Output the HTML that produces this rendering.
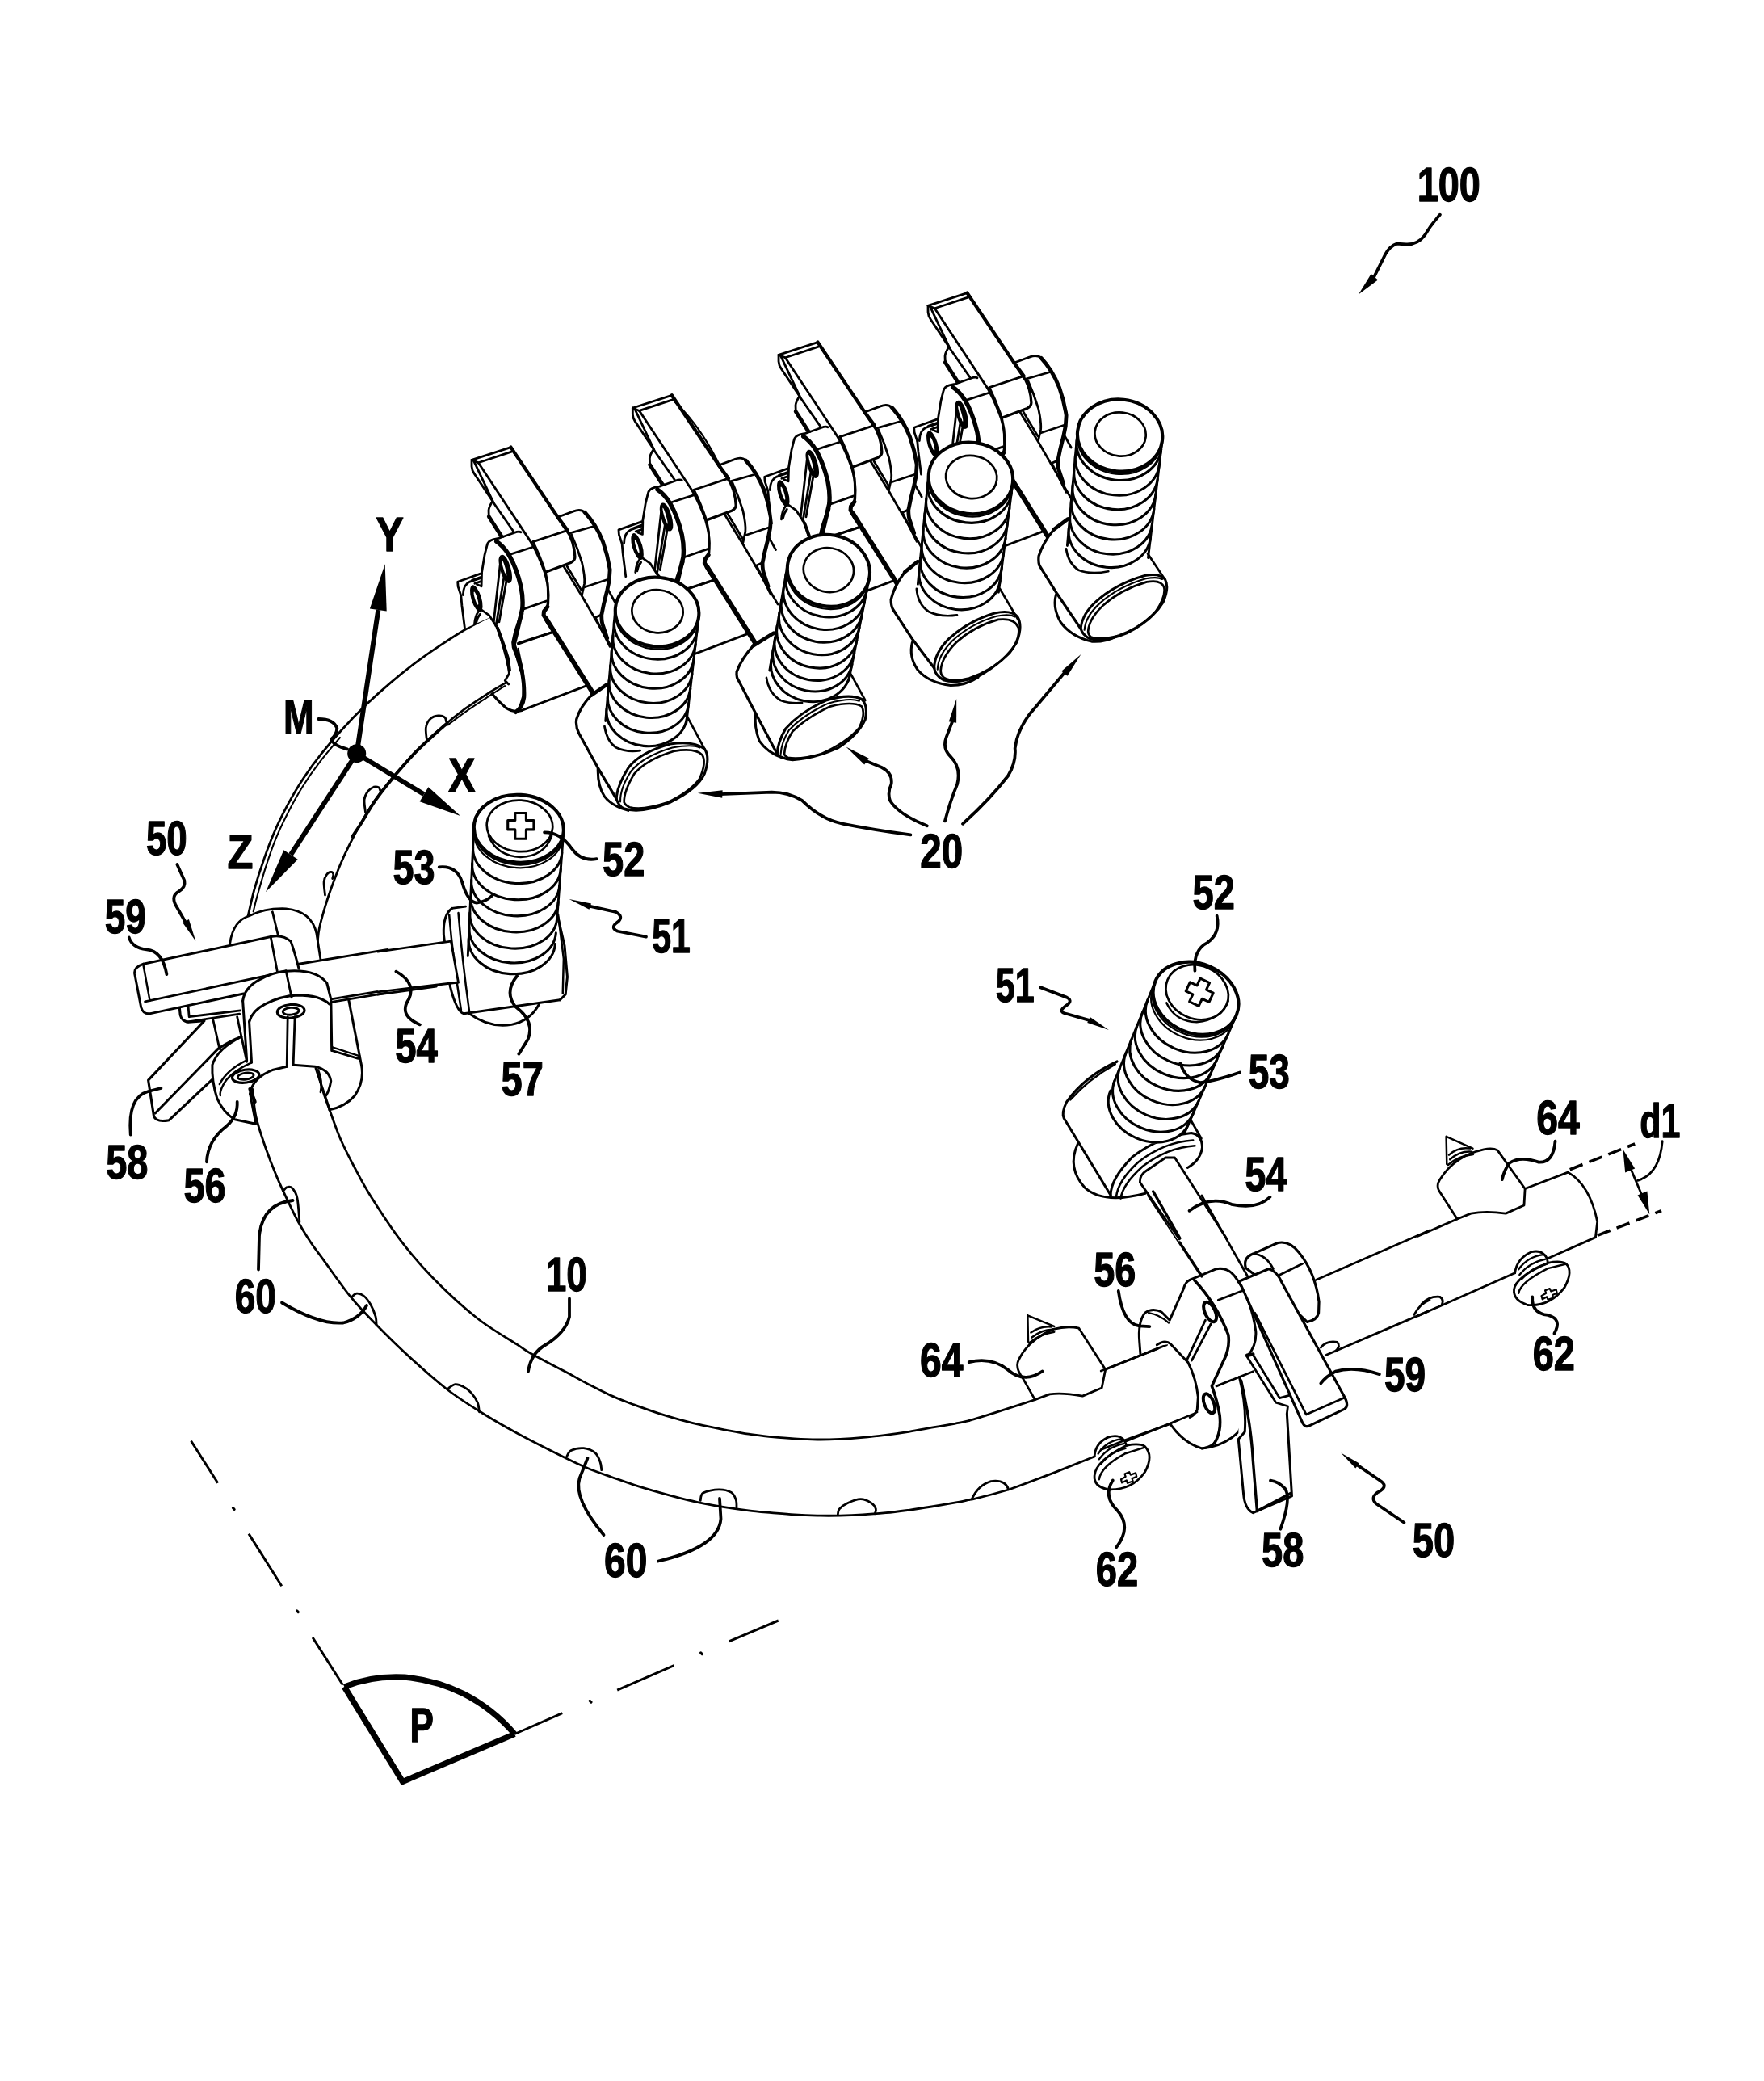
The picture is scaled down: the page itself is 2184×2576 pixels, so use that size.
<!DOCTYPE html>
<html><head><meta charset="utf-8"><title>Fig</title>
<style>
html,body{margin:0;padding:0;background:#fff;}
svg{display:block}
text{font-family:"Liberation Sans",sans-serif;font-weight:bold;fill:#000;stroke:#000;stroke-width:1.3px;stroke-linejoin:round}
.k path,.k ellipse,.k line,.k polyline,.k circle{fill:none;stroke:#000;stroke-linecap:round;stroke-linejoin:round}
</style></head><body>
<svg width="2184" height="2576" viewBox="0 0 2184 2576" class="k">
<rect x="0" y="0" width="2184" height="2576" fill="#fff" stroke="none"/>
<!-- 10_defs.frag -->
<defs><g id="clamp">
<g transform="translate(570,540) scale(0.085034)">
<path d="M165,345 L735,160" stroke-width="32.93" />
<path d="M262,385 L745,225" stroke-width="32.93" />
<path d="M165,345 L262,385 L1030,1545" stroke-width="32.93" />
<path d="M165,345 L165,440 Q170,500 200,540 L470,945 Q415,1030 412,1080 L415,1170" stroke-width="32.93" />
<path d="M415,1170 L600,1460" stroke-width="56.45" />
<path d="M200,368 L486,974 L775,1388" stroke-width="32.93" />
<path d="M735,160 L1420,1180 L1560,1370" stroke-width="50.57" />
</g>
<g transform="translate(555,650) scale(0.086505)">
<path d="M790,165 L640,207 Q570,225 555,290 L520,430 L478,690 L135,812 L140,880 L183,1010 L237,1480 L580,1330 L690,1450 L950,1700 L1060,1200 L1040,880 L870,430 Z" stroke-width="0.00" style="fill:#fff;stroke:none"/>
<path d="M790,165 L720,190 L640,207 Q570,225 555,290 L520,430 L478,690 L135,812 L140,880 L183,1010" stroke-width="32.37" />
<path d="M183,1010 L195,1150 L237,1480" stroke-width="32.37" />
<path d="M212,1000 Q215,850 310,810 L462,758" stroke-width="32.37" />
<path d="M340,790 L462,745" stroke-width="32.37" />
<path d="M380,835 L470,805" stroke-width="32.37" />
<path d="M410,850 L475,875 L480,690" stroke-width="32.37" />
<ellipse cx="402" cy="1050" rx="72" ry="198" transform="rotate(-17 402 1050)" style="fill:#000;stroke:none"/>
<ellipse cx="398" cy="1048" rx="17" ry="98" transform="rotate(-17 398 1048)" style="fill:#fff;stroke:none"/>
<path d="M478,1215 L585,1290 L650,1390 L690,1450 Q770,1650 830,1900 L870,2081" stroke-width="32.37" />
<path d="M712,1470 Q800,1700 860,1900 L885,2081" stroke-width="32.37" />
<path d="M430,1240 Q385,1300 375,1420" stroke-width="32.37" />
<path d="M455,1275 Q410,1330 400,1400" stroke-width="32.37" />
<ellipse cx="818" cy="628" rx="48" ry="182" transform="rotate(-16 818 628)" stroke-width="55.49" style="fill:#000"/>
<ellipse cx="800" cy="610" rx="14" ry="120" transform="rotate(-16 800 610)" style="fill:#fff;stroke:none"/>
<path d="M742,570 L652,1375" stroke-width="32.37" />
<path d="M805,700 L690,1400 L680,1440" stroke-width="32.37" />
<path d="M833,795 L728,1385" stroke-width="32.37" />
<path d="M690,235 Q790,300 870,430 Q980,620 1040,880 Q1075,1050 1060,1200 L990,1500 L940,1700 Q935,1740 950,1770 L1000,1900 L1050,2081" stroke-width="62.42" />
<path d="M790,165 L945,110 Q1010,85 1040,102" stroke-width="32.37" />
<path d="M880,420 L1200,318" stroke-width="32.37" />
<path d="M1080,1200 L1410,1085" stroke-width="32.37" />
<path d="M1000,1700 L1510,1525" stroke-width="32.37" />
<path d="M1186,247 Q1300,450 1380,680 Q1430,850 1435,1000 L1430,1130 L1420,1170" stroke-width="32.37" />
<path d="M1420,1170 L1370,1235 L1365,1290 L1400,1340 L1450,1430" stroke-width="58.96" />
<path d="M1400,1340 L2196,2601" stroke-width="68.20" />
</g>
<g transform="translate(660,610) scale(0.086505)">
<path d="M0,700 L470,545" stroke-width="32.37" />
<path d="M0,700 Q100,900 178,1135" stroke-width="32.37" />
<path d="M178,1135 L540,1000 Q600,970 600,920 L590,820 Q570,700 520,600 L480,540 L350,350" stroke-width="38.15" />
<path d="M350,350 L580,265 Q680,225 740,280" stroke-width="32.37" />
<path d="M740,280 Q900,450 1000,700 Q1070,900 1100,1100 Q1100,1250 1060,1400 L1010,1600 L980,1750 Q980,1850 1000,1900 L1060,2081" stroke-width="55.49" />
<path d="M520,580 L870,480" stroke-width="32.37" />
<path d="M550,600 Q640,800 700,1000 Q745,1200 735,1300 L700,1460" stroke-width="32.37" />
<path d="M740,1350 L1070,1240" stroke-width="32.37" />
<path d="M880,1790 L970,1750" stroke-width="32.37" />
<path d="M440,1055 L700,1480 L880,1790 L1200,2340" stroke-width="32.37" />
<path d="M485,1050 L695,1400" stroke-width="32.37" />
<path d="M900,1800 L1000,2000 L1100,2200" stroke-width="32.37" />
<path d="M178,1135 L210,1300 L215,1550 L200,1640" stroke-width="32.37" />
<path d="M1070,1380 L1170,1560" stroke-width="32.37" />
</g>
<g transform="translate(500,760) scale(0.147384)">
<path d="M780,100 L840,280 Q880,420 885,500 L850,560 L880,590" stroke-width="19.00" />
<path d="M740,670 Q800,740 860,790 Q920,830 990,810" stroke-width="23.07" />
<path d="M990,0 L940,150 L920,240 L935,290 L990,470 Q1015,600 1010,700 Q1000,780 940,825" stroke-width="32.57" />
<path d="M960,290 L1000,480 Q1005,600 1000,690 L970,790" stroke-width="14.93" />
<path d="M960,245 L1260,150" stroke-width="19.00" />
<path d="M990,810 L1530,605" stroke-width="19.00" />
</g>
</g></defs>

<!-- 30_rail.frag -->
<g><path d="M312.8,1348.3 C313.5,1354.0 314.4,1370.6 317.0,1382.4 C319.6,1394.2 324.1,1406.9 328.3,1419.2 C332.6,1431.5 337.8,1444.8 342.5,1456.1 C347.2,1467.4 352.2,1477.8 356.7,1487.2 C361.2,1496.7 364.7,1504.3 369.4,1512.8 C374.1,1521.3 379.9,1530.6 385.0,1538.3 C390.1,1546.0 391.8,1547.8 400.0,1558.9 C408.2,1570.1 423.1,1591.8 434.0,1605.2 C444.9,1618.6 452.8,1626.5 465.3,1639.2 C477.8,1651.9 494.1,1667.9 508.8,1681.4 C523.5,1694.9 539.2,1708.8 553.7,1720.0 C568.2,1731.2 581.6,1739.5 596.0,1748.5 C610.4,1757.5 622.5,1764.5 640.0,1774.0 C657.5,1783.5 686.5,1798.0 701.2,1805.3 C715.9,1812.6 719.1,1813.9 728.3,1817.7 C737.6,1821.5 747.2,1824.8 756.7,1828.2 C766.1,1831.6 775.6,1835.0 785.0,1838.1 C794.5,1841.2 803.9,1843.9 813.4,1846.6 C822.8,1849.3 832.3,1851.9 841.7,1854.3 C851.2,1856.6 860.6,1858.8 870.1,1860.8 C879.5,1862.7 889.0,1864.4 898.4,1865.9 C907.9,1867.4 917.3,1868.7 926.8,1869.8 C936.2,1871.0 945.7,1871.8 955.1,1872.7 C964.6,1873.5 974.0,1874.4 983.4,1874.9 C992.9,1875.5 1002.3,1875.9 1011.8,1876.1 C1021.2,1876.3 1030.7,1876.3 1040.1,1876.1 C1049.6,1875.9 1059.0,1875.5 1068.5,1874.9 C1077.9,1874.4 1087.4,1873.6 1096.8,1872.7 C1106.3,1871.7 1115.7,1870.5 1125.2,1869.3 C1134.6,1868.0 1144.1,1866.5 1153.5,1865.0 C1163.0,1863.5 1174.1,1861.6 1181.9,1860.2 C1189.6,1858.8 1197.0,1857.1 1200.0,1856.5" stroke-width="2.80"/><path d="M392.1,1320.0 C393.3,1324.7 396.4,1338.8 399.2,1348.3 C402.0,1357.8 405.3,1366.3 409.1,1376.7 C412.9,1387.1 416.9,1399.3 421.9,1410.7 C426.9,1422.1 432.8,1433.5 438.9,1445.0 C445.0,1456.5 449.1,1465.1 458.5,1480.0 C467.9,1494.9 482.3,1517.4 495.2,1534.4 C508.1,1551.4 520.2,1565.8 536.1,1582.0 C552.0,1598.2 573.2,1617.8 590.5,1631.5 C607.8,1645.2 628.6,1656.7 640.0,1664.2 C651.4,1671.7 648.7,1670.7 658.7,1676.3 C668.7,1681.9 688.4,1691.8 700.0,1698.0 C711.6,1704.2 718.9,1708.5 728.3,1713.4 C737.7,1718.3 747.2,1723.3 756.7,1727.6 C766.1,1731.8 775.6,1735.3 785.0,1738.9 C794.5,1742.4 803.9,1745.7 813.4,1748.8 C822.8,1751.9 832.3,1754.7 841.7,1757.3 C851.2,1759.9 860.6,1762.3 870.1,1764.4 C879.5,1766.5 889.0,1768.3 898.4,1770.1 C907.9,1771.9 917.3,1773.8 926.8,1775.2 C936.2,1776.6 945.7,1777.6 955.1,1778.6 C964.6,1779.5 974.0,1780.3 983.4,1780.8 C992.9,1781.4 1002.3,1781.9 1011.8,1782.0 C1021.2,1782.1 1030.7,1781.8 1040.1,1781.4 C1049.6,1781.0 1059.0,1780.3 1068.5,1779.4 C1077.9,1778.6 1087.4,1777.5 1096.8,1776.3 C1106.3,1775.1 1115.7,1773.8 1125.2,1772.3 C1134.6,1770.8 1144.1,1768.9 1153.5,1767.2 C1163.0,1765.6 1174.1,1763.8 1181.9,1762.4 C1189.6,1761.0 1197.0,1759.3 1200.0,1758.7" stroke-width="2.80"/><path d="M350.5,1474.5 C351.3,1473.7 353.4,1470.3 355.3,1469.7 C357.2,1469.0 359.7,1468.6 361.8,1470.8 C363.9,1473.0 366.5,1476.0 368.0,1483.0 C369.5,1490.0 370.4,1507.8 370.9,1512.7" stroke-width="2.80"/><path d="M435.5,1605.4 C436.5,1604.7 439.3,1601.4 441.7,1601.2 C444.2,1601.0 447.4,1601.8 450.2,1604.0 C453.1,1606.2 456.3,1610.3 458.7,1614.5 C461.2,1618.8 463.7,1625.4 465.0,1629.5 C466.2,1633.7 465.9,1637.8 466.1,1639.5" stroke-width="2.80"/><path d="M555.1,1718.6 C556.5,1717.8 560.5,1714.1 563.6,1713.7 C566.7,1713.4 570.2,1714.8 573.5,1716.6 C576.8,1718.3 580.5,1720.9 583.4,1724.2 C586.4,1727.5 589.7,1732.5 591.4,1736.4 C593.0,1740.3 593.0,1745.9 593.4,1747.8" stroke-width="2.80"/><path d="M701.4,1803.5 C702.4,1802.2 703.5,1797.4 707.1,1795.6 C710.6,1793.8 717.7,1792.3 722.7,1792.7 C727.6,1793.2 733.4,1795.6 736.8,1798.4 C740.2,1801.2 741.8,1806.2 743.1,1809.8 C744.4,1813.3 744.5,1818.0 744.8,1819.7" stroke-width="2.80"/><path d="M867.2,1857.4 C867.8,1855.8 866.9,1850.3 870.6,1848.0 C874.4,1845.7 884.1,1843.9 889.9,1843.8 C895.7,1843.7 902.0,1845.3 905.5,1847.4 C909.0,1849.6 910.1,1853.4 911.2,1856.5 C912.3,1859.7 911.9,1864.8 912.0,1866.4" stroke-width="2.80"/><path d="M1037.3,1874.9 C1037.6,1873.8 1037.3,1870.2 1039.3,1867.9 C1041.3,1865.5 1044.8,1862.8 1049.2,1860.8 C1053.6,1858.7 1060.6,1855.7 1065.6,1855.7 C1070.7,1855.7 1076.1,1858.7 1079.3,1860.8 C1082.4,1862.8 1083.7,1865.7 1084.4,1867.9 C1085.0,1870.0 1083.4,1872.8 1083.2,1873.8" stroke-width="2.80"/></g>
<g transform="translate(1100,1600) scale(0.226757)">
<path d="M441,699 Q500,682 600,650 L800,585" stroke-width="12.35" />
<path d="M441,1131 L460,1128 Q560,1105 660,1075 L900,985 L1125,895" stroke-width="12.35" />
<path d="M1185,420 L1520,285" stroke-width="12.35" />
<path d="M1300,810 L1700,650" stroke-width="12.35" />
<path d="M455,1128 Q490,1050 560,1030 Q640,1020 655,1075" stroke-width="12.35" />
<path d="M800,585 L735,470 Q690,410 710,370 Q760,260 900,200 Q980,180 1040,195 L1185,420 L1165,520 L1060,565 Q950,545 880,555 Z" stroke-width="12.35" style="fill:#fff"/>
<path d="M760,125 L905,185 M760,125 L763,268 M778,218 Q830,180 892,187 M783,245 Q840,200 900,202 M768,275 Q830,225 905,215" stroke-width="11.03" />
<path d="M1125,1000 Q1120,1060 1200,1075 Q1330,1080 1400,980 Q1450,890 1400,840 Q1370,820 1300,835 Q1130,920 1125,1000 Z" stroke-width="12.35" style="fill:#fff"/>
<path d="M1150,1020 Q1160,950 1290,880 L1400,845" stroke-width="11.03" />
<path d="M1125,895 Q1130,820 1200,790 Q1260,770 1290,810 L1300,835" stroke-width="12.35" />
<path d="M1145,880 Q1190,810 1270,800 M1150,910 Q1200,840 1285,825 M1160,935 Q1210,870 1295,850" stroke-width="10.58" />
<path d="M1270,1020 L1295,1005 L1290,990 L1315,980 L1322,995 L1350,985 L1355,1005 L1330,1015 L1335,1030 L1305,1040 L1300,1025 L1275,1038 Z" stroke-width="9.70" />
</g>
<g transform="translate(1760,1340) scale(0.226757)">
<path d="M-20,839 L195,745" stroke-width="12.35" />
<path d="M565,580 L800,490" stroke-width="12.35" />
<path d="M-20,1274 L510,1040" stroke-width="12.35" />
<path d="M690,960 L950,845" stroke-width="12.35" />
<path d="M800,490 Q920,560 960,760 L950,845" stroke-width="12.35" />
<path d="M810,475 L1165,335" stroke-width="15.88" stroke-dasharray="75 38" style="stroke-linecap:butt"/>
<path d="M960,835 L1310,700" stroke-width="15.88" stroke-dasharray="75 38" style="stroke-linecap:butt"/>
<path d="M1125,430 L1220,655" stroke-width="12.35" />
<path d="M1100,365 L1165,470 L1112,492 Z" stroke-width="4.41" style="fill:#000;stroke:none"/>
<path d="M1245,720 L1180,615 L1232,593 Z" stroke-width="4.41" style="fill:#000;stroke:none"/>
<path d="M1315,320 Q1300,500 1180,535" stroke-width="12.35" />
<path d="M195,745 L95,590 Q80,560 100,530 Q180,400 340,365 Q390,355 415,370 L565,580 L560,670 L460,715 Q350,700 270,715 Z" stroke-width="12.35" style="fill:#fff"/>
<path d="M135,295 L280,360 M135,295 L138,445 M150,395 Q200,350 265,360 M155,420 Q210,372 275,378 M145,450 Q200,400 282,392" stroke-width="11.03" />
<path d="M505,1130 Q500,1190 580,1215 Q700,1225 780,1120 Q830,1030 790,990 Q760,970 690,985 Q515,1060 505,1130 Z" stroke-width="12.35" style="fill:#fff"/>
<path d="M530,1150 Q540,1090 690,1015 L790,990" stroke-width="11.03" />
<path d="M510,1040 Q520,960 600,925 Q660,910 685,960 L690,985" stroke-width="12.35" />
<path d="M530,1020 Q580,950 665,940 M535,1050 Q590,980 675,965 M545,1075 Q600,1010 685,990" stroke-width="10.58" />
<path d="M655,1165 L680,1150 L675,1135 L700,1125 L707,1140 L735,1130 L740,1150 L715,1160 L720,1175 L690,1185 L685,1170 L660,1183 Z" stroke-width="9.70" />
<path d="M0,1210 Q40,1165 100,1170 Q125,1185 110,1215" stroke-width="12.35" />
</g>
<g transform="translate(1370,1480) scale(0.226757)">
<path d="M-30,957 L280,835" stroke-width="12.35" />
<path d="M-30,1387 L100,1335 L350,1245 L500,1185" stroke-width="12.35" />
<path d="M1145,460 L1764,190" stroke-width="12.35" />
<path d="M1200,870 L1764,628" stroke-width="12.35" />
<path d="M1170,830 Q1200,790 1260,800 Q1280,820 1250,850" stroke-width="12.35" />
<path d="M1680,650 Q1710,590 1764,570" stroke-width="12.35" />
<path d="M760,395 Q745,340 800,318 L935,258 Q1000,245 1050,310 Q1140,420 1160,580 L1158,640 Q1150,680 1095,690 L900,500 Z" stroke-width="14.11" style="fill:#fff"/>
<path d="M800,318 Q870,320 910,400" stroke-width="12.35" />
<path d="M880,465 L1070,372" stroke-width="12.35" />
<path d="M455,460 L600,400 Q660,390 700,440 Q790,560 815,740 Q820,820 770,875 L600,1040 L755,1130 Q760,1220 720,1290 Q640,1370 520,1380 Q420,1350 350,1250 L500,1185 L495,1100 L445,910 L350,810 L280,820 L185,865 L180,800 Q170,690 210,640 L300,635 L345,680 L420,510 Q430,470 455,460 Z" stroke-width="0.00" style="fill:#fff;stroke:none"/>
<path d="M455,460 L600,400 Q660,390 700,440 Q790,560 815,740 Q820,820 770,875" stroke-width="13.23" />
<path d="M480,462 Q600,590 665,760 Q675,830 640,900 L575,1040 Q605,1120 618,1200 Q628,1290 590,1350" stroke-width="15.88" />
<path d="M455,460 Q430,470 420,510 L345,680 L300,635 Q250,610 210,640 Q170,690 180,800 L185,865" stroke-width="13.23" />
<path d="M230,640 Q290,650 340,695" stroke-width="10.14" />
<path d="M275,815 Q320,785 350,810 L430,895 L445,910 Q490,1000 500,1100 L495,1170 Q480,1200 455,1210" stroke-width="13.23" />
<path d="M350,1250 Q420,1350 520,1380 Q560,1378 590,1350" stroke-width="13.23" />
<path d="M520,1380 Q640,1370 720,1290 Q760,1220 755,1130" stroke-width="13.23" />
<ellipse cx="565" cy="635" rx="28" ry="58" transform="rotate(-25 565 635)" stroke-width="17.64"/>
<ellipse cx="560" cy="1135" rx="26" ry="56" transform="rotate(-22 560 1135)" stroke-width="17.64"/>
<path d="M540,680 L440,895 M570,700 L465,900" stroke-width="12.35" />
<path d="M610,570 L745,518" stroke-width="12.35" />
<path d="M600,1040 L800,960" stroke-width="12.35" />
<path d="M780,1130 L900,1085" stroke-width="12.35" />
<path d="M720,1330 L748,1630 Q755,1710 800,1732 L1012,1640 L985,1190 L965,1130 L725,990 Z" stroke-width="0.00" style="fill:#fff;stroke:none"/>
<path d="M725,990 Q765,1150 755,1290 L720,1330 L748,1630 Q755,1710 800,1732 L1012,1640 L985,1190" stroke-width="13.23" />
<path d="M735,1010 Q790,1250 800,1450 L822,1722 L1005,1625" stroke-width="14.99" />
<path d="M765,875 L925,1130 L990,1150 L985,1190" stroke-width="12.35" />
<path d="M800,870 L945,1105 L1000,1090" stroke-width="12.35" />
<path d="M768,872 L800,866" stroke-width="19.40" />
<path d="M735,490 L1070,1240 Q1085,1270 1110,1255 L1300,1165 Q1325,1145 1300,1100 L960,480 Q930,410 885,400 L720,470 Z" stroke-width="14.11" style="fill:#fff"/>
<path d="M810,640 L1090,1195 L1295,1105" stroke-width="12.35" />
<path d="M230,0 L520,440" stroke-width="15.88" />
<path d="M520,0 L770,440" stroke-width="12.35" />
</g>

<!-- 40_left.frag -->
<g><path d="M604.7,763.9 C599.9,766.5 586.0,773.4 576.1,779.2 C566.2,785.0 555.7,791.8 545.5,798.6 C535.3,805.4 525.0,812.4 514.8,820.1 C504.6,827.7 494.4,835.9 484.2,844.6 C474.0,853.2 463.8,862.3 453.6,872.1 C443.4,882.0 432.1,893.7 422.9,903.8 C413.8,913.8 406.3,922.5 398.4,932.4 C390.6,942.2 382.8,952.8 376.0,963.0 C369.2,973.2 363.4,983.1 357.6,993.6 C351.8,1004.2 346.4,1014.7 341.3,1026.3 C336.2,1037.9 331.4,1050.5 327.0,1063.1 C322.5,1075.7 318.1,1089.6 314.7,1101.9 C311.3,1114.1 307.9,1130.8 306.5,1136.6" stroke-width="2.80"/><path d="M420.9,913.0 C416.8,917.9 404.1,932.5 396.4,942.6 C388.7,952.6 381.6,962.7 375.0,973.2 C368.3,983.8 362.2,995.0 356.6,1005.9 C351.0,1016.8 345.9,1027.3 341.3,1038.6 C336.7,1049.8 332.8,1061.7 329.0,1073.3 C325.3,1084.8 321.4,1098.8 318.8,1108.0 C316.2,1117.2 314.5,1125.0 313.7,1128.4" stroke-width="2.10"/><path d="M627.2,844.6 C623.7,846.6 615.2,851.4 606.7,856.8 C598.2,862.3 586.3,869.8 576.1,877.2 C565.9,884.7 555.7,892.9 545.5,901.7 C535.3,910.6 525.0,919.8 514.8,930.3 C504.6,940.9 492.7,954.8 484.2,965.0 C475.7,975.3 469.9,982.7 463.8,991.6 C457.7,1000.4 452.6,1009.3 447.4,1018.1 C442.3,1027.0 437.6,1035.8 433.2,1044.7 C428.7,1053.5 424.6,1062.4 420.9,1071.2 C417.2,1080.1 413.8,1089.3 410.7,1097.8 C407.6,1106.3 405.1,1113.8 402.5,1122.3 C400.0,1130.8 396.9,1141.7 395.4,1148.8 C393.8,1156.0 393.7,1162.4 393.3,1165.2" stroke-width="2.80"/><path d="M553.6,895.6 C552.3,896.7 551.9,896.5 545.5,902.4 C539.0,908.2 525.0,920.4 514.8,930.9 C504.6,941.5 492.7,955.5 484.2,965.7 C475.7,975.9 469.9,983.4 463.8,992.2 C457.7,1001.1 452.0,1011.5 447.4,1018.8 C442.9,1026.0 438.1,1032.7 436.2,1035.5" stroke-width="3.80"/><path d="M625.1,849.1 C622.0,851.0 614.9,855.5 606.7,860.9 C598.6,866.3 584.8,875.3 576.1,881.3 C567.4,887.4 558.2,894.6 554.7,897.3" stroke-width="2.10"/><path d="M528.1,914.0 C528.0,911.6 526.6,903.8 527.5,899.7 C528.3,895.6 530.7,891.8 533.2,889.5 C535.7,887.2 539.5,886.3 542.4,886.0 C545.3,885.7 548.9,886.6 550.6,887.9 C552.3,889.1 552.3,892.6 552.6,893.6" stroke-width="2.80"/><path d="M452.6,1005.9 C452.3,1003.2 450.6,994.0 451.1,989.6 C451.6,985.1 453.7,981.9 455.6,979.3 C457.6,976.8 460.6,975.0 462.8,974.2 C465.0,973.5 467.5,974.1 468.9,974.8 C470.3,975.6 470.6,978.3 470.9,978.9" stroke-width="2.80"/><path d="M402.5,1108.0 C402.3,1105.3 400.8,1095.9 401.1,1091.7 C401.4,1087.4 403.1,1084.5 404.6,1082.5 C406.0,1080.4 408.3,1079.5 409.7,1079.4 C411.0,1079.3 412.4,1080.5 412.7,1081.9 C413.1,1083.2 411.9,1086.6 411.7,1087.6" stroke-width="2.80"/></g>
<g transform="translate(130,1100) scale(0.198413)">
<path d="M780,340 Q800,200 900,170 Q1000,120 1130,125 Q1290,140 1320,280 L1345,440 L1210,470 L1035,300 Z" stroke-width="0.00" style="fill:#fff;stroke:none"/>
<path d="M780,340 Q800,200 900,170 Q1000,120 1130,125 Q1290,140 1320,280 L1345,440" stroke-width="14.11" />
<path d="M1045,145 L1080,290" stroke-width="14.11" />
<path d="M615,830 L270,1195 L305,1420 Q320,1460 400,1445 L670,1190 L850,925 L700,830 Z" stroke-width="0.00" style="fill:#fff;stroke:none"/>
<path d="M615,830 L270,1195 L305,1420 Q320,1460 400,1445 L670,1190" stroke-width="15.62" />
<path d="M315,1400 L705,1000 Q780,950 850,925" stroke-width="15.62" />
<path d="M675,820 L715,1000" stroke-width="14.11" />
<path d="M850,925 Q700,1000 670,1100 Q665,1200 700,1310 Q740,1400 810,1440 L940,1468 L905,1280 L885,1070 Z" stroke-width="0.00" style="fill:#fff;stroke:none"/>
<path d="M850,925 Q700,1000 670,1100 Q665,1200 700,1310 Q740,1400 810,1440 L940,1468" stroke-width="15.12" />
<path d="M915,1085 Q770,1150 735,1230 Q715,1270 720,1290" stroke-width="12.60" />
<path d="M885,1070 Q760,1130 715,1220" stroke-width="12.60" />
<ellipse cx="878" cy="1170" rx="85" ry="40" transform="rotate(-8 878 1170)" stroke-width="16.13"/>
<ellipse cx="878" cy="1170" rx="50" ry="20" transform="rotate(-8 878 1170)" stroke-width="14.11"/>
<path d="M1410,690 L1520,690 L1600,1100 Q1620,1200 1560,1290 Q1500,1360 1400,1380 L1315,1120 L1415,1010 Z" stroke-width="0.00" style="fill:#fff;stroke:none"/>
<path d="M1520,690 L1600,1100 Q1620,1200 1560,1290 Q1500,1360 1400,1380" stroke-width="15.12" />
<path d="M1415,1010 L1580,1060" stroke-width="14.11" />
<path d="M1420,990 L1590,1045" stroke-width="12.10" />
<path d="M465,740 L470,790 Q480,830 520,832 L620,825" stroke-width="15.62" />
<path d="M520,740 L525,800 L845,760" stroke-width="14.11" />
<path d="M510,832 L840,782" stroke-width="14.11" />
<path d="M825,800 L885,1080" stroke-width="14.11" />
<path d="M240,470 L1035,300 L1130,512 L860,655 L290,778 Q240,790 225,740 L185,530 Q180,490 240,470 Z" stroke-width="0.00" style="fill:#fff;stroke:none"/>
<path d="M240,470 L1035,300" stroke-width="15.12" />
<path d="M240,470 Q180,490 185,530 L225,740 Q240,790 290,778 L865,655" stroke-width="15.12" />
<path d="M240,480 L280,700" stroke-width="12.60" />
<path d="M250,705 L1000,545 L1130,512" stroke-width="14.11" />
<path d="M860,700 Q870,620 960,570 Q1050,520 1130,515 Q1320,500 1385,590 L1410,690 L1415,1010 L1310,1110 L1135,1110 L915,1080 L885,1070 Z" stroke-width="0.00" style="fill:#fff;stroke:none"/>
<path d="M1035,300 Q1110,285 1160,330 Q1185,400 1210,500" stroke-width="15.12" />
<path d="M1035,305 L1075,515" stroke-width="14.11" />
<path d="M860,700 Q870,620 960,570 Q1050,520 1130,515 Q1320,500 1385,590 L1410,690 L1415,1010" stroke-width="15.62" />
<path d="M1130,515 L1165,680" stroke-width="14.11" />
<path d="M900,830 Q920,760 1000,720 Q1100,670 1200,665 Q1340,665 1400,720" stroke-width="16.63" />
<path d="M860,700 L885,1070" stroke-width="15.12" />
<path d="M900,830 L915,1085" stroke-width="15.12" />
<ellipse cx="1160" cy="765" rx="85" ry="42" transform="rotate(-5 1160 765)" stroke-width="16.13"/>
<ellipse cx="1160" cy="765" rx="50" ry="22" transform="rotate(-5 1160 765)" stroke-width="14.11"/>
<path d="M1140,800 L1135,1110" stroke-width="14.11" />
<path d="M1185,800 L1175,1100" stroke-width="14.11" />
<path d="M905,1280 Q920,1180 1050,1130 L1135,1110" stroke-width="15.12" />
<path d="M1175,1100 L1310,1110 Q1400,1130 1410,1200 Q1400,1260 1380,1290" stroke-width="15.12" />
<path d="M905,1250 L935,1330" stroke-width="22.18" />
<path d="M1330,1130 Q1360,1200 1345,1270" stroke-width="12.60" />
<path d="M1315,1120 L1400,1372" stroke-width="14.11" />
<path d="M905,1280 L940,1462" stroke-width="14.11" />
<path d="M1210,470 L1764,380" stroke-width="14.11" />
<path d="M1410,690 L1764,632" stroke-width="14.11" />
<path d="M1422,706 L1764,650" stroke-width="14.11" />
</g>
<g transform="translate(470,960) scale(0.226757)">
<path d="M395,725 L470,715 L965,735 L1010,930 L1025,1100 L1015,1195 L985,1225 L870,1250 Q820,1340 720,1360 Q600,1380 490,1300 L460,1300 Q420,1290 385,1150 L350,870 Q345,760 395,725 Z" stroke-width="0.00" style="fill:#fff;stroke:none"/>
<path d="M395,725 L470,715" stroke-width="12.35" />
<path d="M395,725 Q345,760 350,870 L385,1150 Q420,1290 460,1300" stroke-width="13.23" />
<path d="M380,760 Q400,1000 445,1280" stroke-width="11.03" />
<path d="M430,750 Q450,1000 490,1290" stroke-width="11.03" />
<path d="M460,1300 L985,1225" stroke-width="13.23" />
<path d="M965,735 L1010,930 L1025,1100 L1015,1195 L985,1225" stroke-width="13.23" />
<path d="M975,760 L1005,1000 L1000,1190" stroke-width="11.03" />
<path d="M490,1300 Q600,1380 720,1360 Q820,1340 870,1250" stroke-width="13.23" />
<path d="M-10,962 L390,905 L430,1130 L-10,1182 Z" stroke-width="0.00" style="fill:#fff;stroke:none"/>
<path d="M-10,962 L390,905 L430,1130" stroke-width="12.35" />
<path d="M-10,1181 L420,1130" stroke-width="12.35" />
<path d="M-10,1196 L310,1152" stroke-width="12.35" />
<path d="M515.5,275.0 A245.0,185.0 3.50 0 1 1004.5,305.0 L958.4,919.4 A236.4,185.0 3.50 0 1 486.4,890.6 Z" stroke-width="0.00" style="fill:#fff;stroke:none"/>
<path d="M515.5,275.0 L481.9,985.6" stroke-width="12.79" />
<path d="M1004.5,305.0 L969.3,774.6" stroke-width="12.79" />
<ellipse cx="760.0" cy="290.0" rx="245.0" ry="185.0" transform="rotate(3.50 760.0 290.0)" stroke-width="18.08" style="fill:#fff"/>
<ellipse cx="765.0" cy="275.0" rx="180.0" ry="140.0" transform="rotate(3.50 765.0 275.0)" stroke-width="11.91"/>
<path d="M518.0,293.3 A241.3,179.4 3.50 0 0 999.8,322.7" stroke-width="9.70" />
<path d="M517.0,310.3 A241.3,179.4 3.50 0 0 998.7,339.7" stroke-width="9.70" />
<path d="M510.0,390.1 A243.4,183.8 3.50 0 0 995.9,419.9" stroke-width="13.67" />
<path d="M505.8,480.2 A242.1,182.8 3.50 0 0 989.2,509.8" stroke-width="13.67" />
<path d="M501.5,570.3 A240.9,181.9 3.50 0 0 982.4,599.7" stroke-width="13.67" />
<path d="M497.3,660.4 A239.6,180.9 3.50 0 0 975.6,689.6" stroke-width="13.67" />
<path d="M493.0,750.4 A238.4,180.0 3.50 0 0 968.9,779.6" stroke-width="13.67" />
<path d="M489.2,830.5 A237.3,179.2 3.50 0 0 962.9,859.5" stroke-width="13.67" />
<path d="M486.4,890.6 A236.4,178.5 3.50 0 0 958.4,919.4" stroke-width="13.67" />
<path d="M595,330 Q640,440 770,445 Q900,440 940,330" stroke-width="11.03" />
<path d="M740,205 L800,205 L800,245 L842,245 L842,295 L800,295 L800,345 L740,345 L740,295 L700,295 L700,245 L740,245 Z" stroke-width="13.67" />
</g>
<g transform="translate(1230,1060) scale(0.226757)">
<path d="M675,1120 Q500,1200 400,1340 Q370,1400 385,1430 L460,1560 Q400,1700 500,1810 Q600,1900 830,1840 L1060,1700 Q1130,1660 1140,1590 L1135,1540 L1060,1410 Z" stroke-width="0.00" style="fill:#fff;stroke:none"/>
<path d="M675,1120 Q500,1200 400,1340 Q370,1400 385,1430 L640,1850" stroke-width="13.67" />
<path d="M665,1135 Q520,1215 420,1330" stroke-width="10.58" />
<path d="M460,1570 Q400,1700 500,1810 Q600,1900 830,1840" stroke-width="13.23" />
<path d="M640,1850 Q640,1760 760,1640 Q900,1530 1080,1510 Q1140,1520 1140,1590 Q1130,1660 1060,1700" stroke-width="13.23" />
<path d="M670,1860 Q680,1770 790,1670 Q930,1560 1090,1550" stroke-width="11.47" />
<path d="M695,1868 Q705,1790 815,1692 Q950,1590 1100,1580" stroke-width="11.47" />
<path d="M1060,1410 L1135,1540" stroke-width="12.35" />
<path d="M800,1775 Q800,1740 830,1720 L940,1645 L990,1645 L1270,2100 L1010,2100 Z" stroke-width="0.00" style="fill:#fff;stroke:none"/>
<path d="M800,1775 Q800,1740 830,1720 L940,1645 L990,1645 L1275,2090" stroke-width="12.35" />
<path d="M800,1780 L1015,2090" stroke-width="12.35" />
<path d="M872,1830 L1018,2085" stroke-width="14.99" />
<path d="M884.1,681.2 A240.0,190.0 23.00 0 1 1325.9,868.8 L1065.6,1460.5 A231.6,190.0 23.00 0 1 639.2,1279.5 Z" stroke-width="0.00" style="fill:#fff;stroke:none"/>
<path d="M884.1,681.2 L655.7,1239.3" stroke-width="12.79" />
<path d="M1325.9,868.8 L1043.8,1510.2" stroke-width="12.79" />
<ellipse cx="1105.0" cy="775.0" rx="240.0" ry="190.0" transform="rotate(23.00 1105.0 775.0)" stroke-width="18.08" style="fill:#fff"/>
<ellipse cx="1112.0" cy="742.0" rx="175.0" ry="145.0" transform="rotate(23.00 1112.0 742.0)" stroke-width="11.91"/>
<path d="M879.8,700.6 A236.4,184.3 23.00 0 0 1315.0,885.4" stroke-width="9.70" />
<path d="M872.5,717.6 A236.4,184.3 23.00 0 0 1307.8,902.4" stroke-width="9.70" />
<path d="M842.9,781.8 A238.6,188.9 23.00 0 0 1282.2,968.2" stroke-width="13.67" />
<path d="M814.1,852.2 A237.6,188.1 23.00 0 0 1251.6,1037.8" stroke-width="13.67" />
<path d="M785.3,922.5 A236.6,187.3 23.00 0 0 1220.9,1107.5" stroke-width="13.67" />
<path d="M754.5,998.0 A235.6,186.5 23.00 0 0 1188.1,1182.0" stroke-width="13.67" />
<path d="M723.6,1073.4 A234.5,185.6 23.00 0 0 1155.3,1256.6" stroke-width="13.67" />
<path d="M690.7,1153.8 A233.4,184.7 23.00 0 0 1120.3,1336.2" stroke-width="13.67" />
<path d="M661.9,1224.2 A232.4,184.0 23.00 0 0 1089.7,1405.8" stroke-width="13.67" />
<path d="M639.2,1279.5 A231.6,183.3 23.00 0 0 1065.6,1460.5" stroke-width="13.67" />
<path d="M945,800 Q990,900 1110,905 Q1240,895 1282,790" stroke-width="11.03" />
<g transform="rotate(25 1125 742)"><path d="M1097,672 L1153,672 L1153,714 L1195,714 L1195,768 L1153,768 L1153,812 L1097,812 L1097,768 L1055,768 L1055,714 L1097,714 Z" stroke-width="13.67" /></g>
</g>

<!-- 50_units.frag -->
<use href="#clamp" x="0" y="0"/>
<use href="#clamp" x="199.3" y="-64.3"/>
<path d="M836,498 Q868,528 893,580" stroke-width="2.2"/>
<use href="#clamp" x="380" y="-130"/>
<use href="#clamp" x="565" y="-191"/>

<!-- 60_cyls.frag -->
<g transform="translate(1250,470) scale(0.147384)">
<path d="M490,1170 L370,1260 Q280,1370 245,1480 Q240,1530 250,1560 L400,1800 L390.0,1806.7 Q359.3,1914.4 428.5,2037.5 Q520.8,2160.6 690.0,2199.0 Q797.7,2206.7 982.4,2129.8 Q1197.8,2022.1 1290.1,1868.3 Q1343.9,1745.2 1320.8,1699.0 L1160,1460 Z" stroke-width="0.00" style="fill:#fff;stroke:none"/>
<path d="M571.0,430.6 A358.0,302.0 6.00 0 1 1283.0,505.4 L1184.4,1324.1 A345.5,302.0 6.00 0 1 497.2,1251.9 Z" stroke-width="0.00" style="fill:#fff;stroke:none"/>
<path d="M571.0,430.6 L484.5,1394.1" stroke-width="19.68" />
<path d="M1283.0,505.4 L1163.7,1495.8" stroke-width="19.68" />
<ellipse cx="927.0" cy="468.0" rx="358.0" ry="302.0" transform="rotate(6.00 927.0 468.0)" stroke-width="27.82" style="fill:#fff"/>
<ellipse cx="930.0" cy="458.0" rx="215.0" ry="183.0" transform="rotate(6.00 930.0 458.0)" stroke-width="18.32"/>
<path d="M574.4,449.1 A352.6,292.9 6.00 0 0 1275.8,522.9" stroke-width="14.93" />
<path d="M572.9,463.1 A352.6,292.9 6.00 0 0 1274.3,536.9" stroke-width="14.93" />
<path d="M563.8,510.7 A356.8,301.0 6.00 0 0 1273.4,585.3" stroke-width="21.03" />
<path d="M552.5,635.9 A354.9,299.4 6.00 0 0 1258.4,710.1" stroke-width="21.03" />
<path d="M541.3,761.1 A353.0,297.7 6.00 0 0 1243.3,834.9" stroke-width="21.03" />
<path d="M530.1,886.3 A351.0,296.1 6.00 0 0 1228.3,959.7" stroke-width="21.03" />
<path d="M518.8,1011.5 A349.1,294.5 6.00 0 0 1213.3,1084.5" stroke-width="21.03" />
<path d="M507.6,1136.7 A347.2,292.9 6.00 0 0 1198.2,1209.3" stroke-width="21.03" />
<path d="M497.2,1251.9 A345.5,291.4 6.00 0 0 1184.4,1324.1" stroke-width="21.03" />
<path d="M597.7,2091.3 Q605.4,1976.0 720.8,1868.3 Q890.1,1714.4 1136.2,1645.2 Q1259.3,1622.1 1305.5,1675.9 Q1343.9,1745.2 1290.1,1868.3 Q1197.8,2022.1 982.4,2129.8 Q797.7,2206.7 674.7,2176.0 Q613.1,2145.2 597.7,2091.3 Z" stroke-width="0.00" style="fill:#fff;stroke:none"/>
<path d="M490,1170 L370,1260" stroke-width="31.21" />
<path d="M370,1260 Q280,1370 245,1480 Q240,1530 250,1560 L400,1800 L597.7,2091.3" stroke-width="22.39" />
<path d="M390.0,1806.7 Q359.3,1914.4 428.5,2037.5 Q520.8,2160.6 690.0,2199.0 Q797.7,2206.7 905.4,2152.9" stroke-width="21.03" />
<path d="M597.7,2091.3 Q605.4,1976.0 720.8,1868.3 Q890.1,1714.4 1136.2,1645.2 Q1259.3,1622.1 1305.5,1675.9 Q1343.9,1745.2 1290.1,1868.3 Q1197.8,2022.1 982.4,2129.8 Q797.7,2206.7 674.7,2176.0 Q613.1,2145.2 597.7,2091.3 Z" stroke-width="21.03" />
<path d="M659.3,2114.4 Q667.0,2006.7 782.4,1899.0 Q936.2,1760.6 1151.6,1699.0 Q1274.7,1675.9 1297.8,1745.2 Q1313.2,1822.1 1228.5,1945.2 Q1105.4,2083.7 905.4,2152.9 Q751.6,2191.4 682.3,2160.6 Q659.3,2137.5 659.3,2114.4 Z" stroke-width="18.32" />
<path d="M628.5,2102.1 Q636.2,1991.3 751.6,1883.6 Q913.1,1737.5 1143.9,1671.3 Q1243.9,1652.9 1282.4,1675.9" stroke-width="14.25" />
<path d="M1160,1460 L1300,1670" stroke-width="18.32" />
<path d="M475,1420 Q490,1540 580,1600 Q680,1640 830,1610" stroke-width="18.32" />
</g>
<g transform="translate(1070,530) scale(0.147384)">
<path d="M450,1120 L340,1210 Q250,1330 225,1440 Q225,1490 240,1520 L410,1780 L411.3,1784.3 Q372.8,1922.7 449.7,2030.4 Q542.0,2138.1 726.7,2161.2 Q849.7,2161.2 972.8,2076.6 Q1188.2,1953.5 1280.5,1799.6 Q1334.4,1661.2 1311.3,1615.0 L1142.1,1368.8 L1140,1350 Z" stroke-width="0.00" style="fill:#fff;stroke:none"/>
<path d="M542.3,379.8 A355.0,300.0 6.50 0 1 1247.7,460.2 L1141.9,1278.8 A342.6,300.0 6.50 0 1 461.2,1201.2 Z" stroke-width="0.00" style="fill:#fff;stroke:none"/>
<path d="M542.3,379.8 L450.3,1311.4" stroke-width="19.68" />
<path d="M1247.7,460.2 L1129.0,1378.6" stroke-width="19.68" />
<ellipse cx="895.0" cy="420.0" rx="355.0" ry="300.0" transform="rotate(6.50 895.0 420.0)" stroke-width="27.82" style="fill:#fff"/>
<ellipse cx="900.0" cy="410.0" rx="215.0" ry="180.0" transform="rotate(6.50 900.0 410.0)" stroke-width="18.32"/>
<path d="M545.5,398.4 A349.7,291.0 6.50 0 0 1240.4,477.6" stroke-width="14.93" />
<path d="M543.9,412.4 A349.7,291.0 6.50 0 0 1238.8,491.6" stroke-width="14.93" />
<path d="M534.4,460.0 A353.8,299.0 6.50 0 0 1237.4,540.0" stroke-width="21.03" />
<path d="M521.5,590.2 A351.8,297.3 6.50 0 0 1220.6,669.8" stroke-width="21.03" />
<path d="M509.2,715.4 A349.9,295.7 6.50 0 0 1204.5,794.6" stroke-width="21.03" />
<path d="M496.3,845.6 A348.0,294.0 6.50 0 0 1187.7,924.4" stroke-width="21.03" />
<path d="M483.9,970.8 A346.1,292.4 6.50 0 0 1171.6,1049.2" stroke-width="21.03" />
<path d="M472.1,1091.0 A344.2,290.9 6.50 0 0 1156.1,1169.0" stroke-width="21.03" />
<path d="M461.2,1201.2 A342.6,289.5 6.50 0 0 1141.9,1278.8" stroke-width="21.03" />
<path d="M588.2,2015.0 Q588.2,1892.0 711.3,1768.9 Q880.5,1615.0 1095.9,1553.5 Q1234.4,1522.7 1288.2,1584.2 Q1334.4,1661.2 1280.5,1799.6 Q1188.2,1953.5 972.8,2076.6 Q788.2,2153.5 665.1,2115.0 Q595.9,2076.6 588.2,2015.0 Z" stroke-width="0.00" style="fill:#fff;stroke:none"/>
<path d="M450,1120 L340,1210" stroke-width="31.21" />
<path d="M340,1210 Q250,1330 225,1440 Q225,1490 240,1520 L410,1780 L588.2,2015.0" stroke-width="22.39" />
<path d="M403.6,1799.6 Q372.8,1922.7 449.7,2030.4 Q542.0,2138.1 726.7,2161.2 Q849.7,2161.2 957.4,2092.0" stroke-width="21.03" />
<path d="M588.2,2015.0 Q588.2,1892.0 711.3,1768.9 Q880.5,1615.0 1095.9,1553.5 Q1234.4,1522.7 1288.2,1584.2 Q1334.4,1661.2 1280.5,1799.6 Q1188.2,1953.5 972.8,2076.6 Q788.2,2153.5 665.1,2115.0 Q595.9,2076.6 588.2,2015.0 Z" stroke-width="21.03" />
<path d="M642.0,2038.1 Q649.7,1922.7 772.8,1799.6 Q926.7,1661.2 1126.7,1607.3 Q1265.1,1591.9 1295.9,1676.6 Q1311.3,1768.9 1219.0,1892.0 Q1080.5,2030.4 880.5,2099.7 Q726.7,2138.1 665.1,2092.0 Q642.0,2068.9 642.0,2038.1 Z" stroke-width="18.32" />
<path d="M615.9,2027.3 Q619.0,1907.3 742.0,1784.3 Q903.6,1638.1 1111.3,1579.6 Q1219.0,1556.5 1265.1,1584.2" stroke-width="14.25" />
<path d="M1140,1350 L1300,1620" stroke-width="18.32" />
<path d="M440,1350 Q450,1480 540,1540 Q640,1590 780,1570" stroke-width="18.32" />
</g>
<g transform="translate(890,640) scale(0.147384)">
<path d="M460,975 L290,1080 Q190,1190 150,1300 Q145,1350 170,1380 L310,1650 Q300,1780 340,1880 Q420,1990 530,2020 Q650,2060 800,2020 Q1000,1940 1150,1830 Q1240,1700 1245,1600 L1230,1540 L1110,1320 Z" stroke-width="0.00" style="fill:#fff;stroke:none"/>
<path d="M579.8,386.6 A348.0,300.0 10.50 0 1 1264.2,513.4 L1102.1,1321.2 A335.8,300.0 10.50 0 1 441.7,1198.8 Z" stroke-width="0.00" style="fill:#fff;stroke:none"/>
<path d="M579.8,386.6 L426.3,1289.0" stroke-width="19.68" />
<path d="M1264.2,513.4 L1092.1,1371.1" stroke-width="19.68" />
<ellipse cx="922.0" cy="450.0" rx="348.0" ry="300.0" transform="rotate(10.50 922.0 450.0)" stroke-width="27.82" style="fill:#fff"/>
<ellipse cx="922.0" cy="445.0" rx="212.0" ry="185.0" transform="rotate(10.50 922.0 445.0)" stroke-width="18.32"/>
<path d="M581.6,405.5 A342.8,291.0 10.50 0 0 1255.7,530.5" stroke-width="14.93" />
<path d="M579.0,419.5 A342.8,291.0 10.50 0 0 1253.1,544.5" stroke-width="14.93" />
<path d="M564.5,476.8 A346.6,298.8 10.50 0 0 1246.2,603.2" stroke-width="21.03" />
<path d="M545.7,587.1 A345.0,297.4 10.50 0 0 1224.1,712.9" stroke-width="21.03" />
<path d="M527.8,692.4 A343.4,296.0 10.50 0 0 1203.1,817.6" stroke-width="21.03" />
<path d="M509.0,802.7 A341.8,294.6 10.50 0 0 1181.1,927.3" stroke-width="21.03" />
<path d="M490.3,913.0 A340.1,293.2 10.50 0 0 1159.1,1037.0" stroke-width="21.03" />
<path d="M472.4,1018.3 A338.5,291.8 10.50 0 0 1138.1,1141.7" stroke-width="21.03" />
<path d="M456.2,1113.6 A337.1,290.6 10.50 0 0 1119.1,1236.4" stroke-width="21.03" />
<path d="M441.7,1198.8 A335.8,289.5 10.50 0 0 1102.1,1321.2" stroke-width="21.03" />
<path d="M490,1990 Q495,1890 560,1780 Q680,1640 900,1540 Q1100,1480 1200,1530 Q1255,1580 1230,1700 Q1170,1830 1000,1940 Q800,2030 620,2040 Q520,2030 490,1990 Z" stroke-width="0.00" style="fill:#fff;stroke:none"/>
<path d="M460,975 L290,1080" stroke-width="31.21" />
<path d="M290,1080 Q190,1190 150,1300 Q145,1350 170,1380 L310,1650 L490,1990" stroke-width="22.39" />
<path d="M490,1990 Q495,1890 560,1780 Q680,1640 900,1540 Q1100,1480 1200,1530 Q1255,1580 1230,1700 Q1170,1830 1000,1940 Q800,2030 620,2040 Q520,2030 490,1990 Z" stroke-width="21.03" />
<path d="M550,1990 Q555,1900 620,1800 Q740,1680 940,1590 Q1120,1545 1200,1590 Q1235,1650 1180,1770 Q1080,1890 860,1990 Q680,2040 580,2020 Q555,2010 550,1990 Z" stroke-width="18.32" />
<path d="M520,1990 Q525,1895 590,1790 Q710,1660 920,1565 Q1100,1515 1180,1545" stroke-width="14.25" />
<path d="M310,1650 Q295,1760 340,1880 Q410,1980 530,2020" stroke-width="21.03" />
<path d="M1110,1320 L1230,1540" stroke-width="18.32" />
<path d="M400,1350 Q420,1480 520,1540 Q600,1570 700,1560" stroke-width="18.32" />
</g>
<g transform="translate(660,700) scale(0.147384)">
<path d="M620,1000 L490,1090 Q400,1180 365,1290 Q355,1350 385,1410 L545,1700 Q540,1850 600,1940 Q660,2020 800,2058 Q900,2090 1150,1990 Q1380,1880 1440,1750 Q1490,1610 1440,1540 L1290,1260 Z" stroke-width="0.00" style="fill:#fff;stroke:none"/>
<path d="M691.8,354.4 A352.0,290.0 5.80 0 1 1392.2,425.6 L1293.6,1274.3 A339.7,290.0 5.80 0 1 617.7,1205.7 Z" stroke-width="0.00" style="fill:#fff;stroke:none"/>
<path d="M691.8,354.4 L609.0,1305.8" stroke-width="19.68" />
<path d="M1392.2,425.6 L1287.8,1324.3" stroke-width="19.68" />
<ellipse cx="1042.0" cy="390.0" rx="352.0" ry="290.0" transform="rotate(5.80 1042.0 390.0)" stroke-width="27.82" style="fill:#fff"/>
<ellipse cx="1045.0" cy="385.0" rx="215.0" ry="180.0" transform="rotate(5.80 1045.0 385.0)" stroke-width="18.32"/>
<path d="M695.2,373.0 A346.7,281.3 5.80 0 0 1385.1,443.0" stroke-width="14.93" />
<path d="M693.8,387.0 A346.7,281.3 5.80 0 0 1383.7,457.0" stroke-width="14.93" />
<path d="M682.2,464.6 A350.4,288.7 5.80 0 0 1379.4,535.4" stroke-width="21.03" />
<path d="M671.3,589.8 A348.6,287.2 5.80 0 0 1364.9,660.2" stroke-width="21.03" />
<path d="M660.4,715.0 A346.8,285.7 5.80 0 0 1350.4,785.0" stroke-width="21.03" />
<path d="M649.5,840.1 A345.0,284.2 5.80 0 0 1335.9,909.9" stroke-width="21.03" />
<path d="M638.6,965.3 A343.2,282.7 5.80 0 0 1321.4,1034.7" stroke-width="21.03" />
<path d="M627.7,1090.5 A341.3,281.2 5.80 0 0 1306.9,1159.5" stroke-width="21.03" />
<path d="M617.7,1205.7 A339.7,279.8 5.80 0 0 1293.6,1274.3" stroke-width="21.03" />
<path d="M700,1960 Q705,1850 800,1700 Q900,1570 1150,1500 Q1350,1470 1440,1540 Q1490,1610 1440,1750 Q1380,1880 1150,1990 Q900,2090 760,2040 Q720,2020 700,1960 Z" stroke-width="0.00" style="fill:#fff;stroke:none"/>
<path d="M620,1000 L490,1090" stroke-width="31.21" />
<path d="M490,1090 Q400,1180 365,1290 Q355,1350 385,1410 L545,1700 L700,1960" stroke-width="22.39" />
<path d="M700,1960 Q705,1850 800,1700 Q900,1570 1150,1500 Q1350,1470 1440,1540 Q1490,1610 1440,1750 Q1380,1880 1150,1990 Q900,2090 760,2040 Q720,2020 700,1960 Z" stroke-width="21.03" />
<path d="M765,1990 Q760,1900 850,1750 Q950,1630 1180,1560 Q1360,1530 1420,1590 Q1460,1650 1400,1790 Q1320,1900 1130,1990 Q920,2060 810,2030 Q775,2015 765,1990 Z" stroke-width="18.32" />
<path d="M733,1985 Q730,1870 825,1725 Q930,1600 1170,1530 Q1340,1500 1400,1530" stroke-width="14.25" />
<path d="M545,1700 Q540,1850 600,1940 Q660,2020 800,2058" stroke-width="21.03" />
<path d="M1290,1260 L1440,1540" stroke-width="18.32" />
<path d="M600,1350 Q620,1480 700,1530 Q780,1570 900,1555" stroke-width="18.32" />
</g>

<!-- 80_annot.frag -->
<g>
<path d="M441.7,932.7 L468.3,755.0" stroke-width="6" style="stroke-linecap:butt"/>
<path d="M476.7,698.3 L478.7,756.5 L457.9,753.5 Z" style="fill:#000;stroke:none"/>
<path d="M441.7,932.7 L525.0,983.3" stroke-width="6" style="stroke-linecap:butt"/>
<path d="M570.0,1010.0 L519.6,992.3 L530.4,974.3 Z" style="fill:#000;stroke:none"/>
<path d="M441.7,932.7 L360.0,1058.0" stroke-width="6" style="stroke-linecap:butt"/>
<path d="M329.0,1104.3 L351.3,1052.2 L368.7,1063.8 Z" style="fill:#000;stroke:none"/>
<circle cx="441.7" cy="932.7" r="11.5" style="fill:#000;stroke:none"/>
</g>
<g><path d="M426.3,2088 L498.5,2205.5 L637.2,2146.5" stroke-width="7.2" style="stroke-linejoin:miter;stroke-linecap:butt"/><path d="M426.3,2088 Q460,2074 501.2,2076.2 Q540,2080 573.7,2096.6 Q610,2115 637.2,2146.5" stroke-width="7.2" style="stroke-linecap:butt"/><path d="M424.5,2085.7 L387.1,2027 M348.8,1963.2 L308,1898.6 M269.7,1835.7 L236.6,1783.8" stroke-width="3" style="stroke-linecap:butt"/><path d="M367.6,1993.9 L369.2,1995.5 M288.5,1866.7 L290.1,1868.3" stroke-width="3.2"/><path d="M637.2,2146.5 L696.2,2120.7 M764.2,2092.1 L834.5,2061.7 M902.5,2031.8 L963.7,2006" stroke-width="3" style="stroke-linecap:butt"/><path d="M730.3,2105.4 L731.9,2107 M867.7,2046 L869.3,2047.6" stroke-width="3.2"/></g>
<g transform="translate(1500,150) scale(0.283447)">
<path d="M998,408 Q960,450 930,500 Q900,540 850,538 L810,535 Q780,545 760,580 L705,690" stroke-width="13.41" />
<path d="M642.0,757.0 L697.2,666.5 L726.8,693.5 Z" stroke-width="3.53" style="fill:#000;stroke:none"/>
</g>
<g transform="translate(840,780) scale(0.340136)">
<path d="M845,745 Q700,725 600,705 Q520,690 450,620 Q400,590 340,590 L150,597" stroke-width="11.17" />
<path d="M70.0,593.0 L160.6,583.0 L159.4,611.0 Z" stroke-width="2.94" style="fill:#000;stroke:none"/>
<path d="M905,712 Q800,670 770,620 Q760,590 775,560 Q780,520 740,500 L680,475" stroke-width="11.17" />
<path d="M610.0,425.0 L693.1,466.6 L676.9,489.4 Z" stroke-width="2.94" style="fill:#000;stroke:none"/>
<path d="M970,695 Q990,620 1015,560 Q1030,500 990,460 Q960,430 975,390 L1000,325" stroke-width="11.17" />
<path d="M1012.0,250.0 L1011.8,337.3 L984.2,332.7 Z" stroke-width="2.94" style="fill:#000;stroke:none"/>
<path d="M1035,705 Q1130,620 1200,530 Q1230,480 1225,430 Q1235,350 1300,280 L1405,155" stroke-width="11.17" />
<path d="M1465.0,88.0 L1415.6,167.1 L1394.4,148.9 Z" stroke-width="2.94" style="fill:#000;stroke:none"/>
</g>
<g transform="translate(130,640) scale(0.333333)">
<path d="M793,750 Q850,750 862,785 Q860,810 840,825 Q850,850 900,862" stroke-width="11.40" />
</g>
<g transform="translate(130,1100) scale(0.198413)">
<path d="M150,305 Q170,370 260,380 Q360,390 385,535" stroke-width="19.15" />
<path d="M160,1535 Q140,1300 270,1265 L350,1245" stroke-width="19.15" />
<path d="M635,1705 Q640,1570 760,1480 Q830,1420 825,1330" stroke-width="19.15" />
<path d="M0,0" stroke-width="0.00" />
</g>
<g transform="translate(130,640) scale(0.333333)">
<path d="M268,1290 L295,1350 Q300,1375 275,1390 Q245,1405 262,1440 L305,1515" stroke-width="11.40" />
<path d="M337.0,1575.0 L288.3,1505.8 L311.7,1494.2 Z" stroke-width="3.00" style="fill:#000;stroke:none"/>
</g>
<g transform="translate(470,960) scale(0.226757)">
<path d="M1185,455 Q1100,470 1050,400 Q990,310 900,310" stroke-width="16.76" />
<path d="M325,500 Q420,490 450,580 Q480,690 530,695 Q580,690 615,655" stroke-width="16.76" />
<path d="M1455,880 L1300,850 Q1255,830 1300,800 Q1335,770 1290,745 L1140,712" stroke-width="16.76" />
<path d="M1035.0,675.0 L1155.6,698.9 L1144.4,731.1 Z" stroke-width="4.41" style="fill:#000;stroke:none"/>
<path d="M90,1070 Q200,1130 160,1220 Q100,1310 220,1360" stroke-width="16.76" />
<path d="M750,1095 Q680,1180 740,1260 Q850,1340 810,1440 L760,1520" stroke-width="16.76" />
</g>
<g transform="translate(1230,1060) scale(0.226757)">
<path d="M1220,325 Q1240,420 1170,470 Q1090,510 1100,625" stroke-width="16.76" />
<path d="M255,715 L400,770 Q440,790 390,820 Q350,850 400,860 L530,897" stroke-width="16.76" />
<path d="M630.0,948.0 L512.4,908.2 L527.6,877.8 Z" stroke-width="4.41" style="fill:#000;stroke:none"/>
<path d="M1345,1180 Q1200,1230 1130,1235 Q1050,1220 1020,1130" stroke-width="16.76" />
<path d="M1510,1860 Q1440,1930 1300,1900 Q1180,1850 1070,1935" stroke-width="16.76" />
</g>
<g transform="translate(1370,1480) scale(0.226757)">
<path d="M65,520 Q90,700 180,712 L235,715" stroke-width="16.76" />
<path d="M1490,975 Q1350,930 1250,960 Q1200,985 1170,1025" stroke-width="16.76" />
<path d="M950,1820 Q1010,1650 975,1600 Q940,1560 895,1555" stroke-width="16.76" />
<path d="M1625,1785 L1470,1680 Q1440,1650 1480,1620 Q1540,1590 1500,1560 L1365,1468" stroke-width="16.76" />
<path d="M1280.0,1405.0 L1380.4,1461.6 L1359.6,1488.4 Z" stroke-width="4.41" style="fill:#000;stroke:none"/>
</g>
<g transform="translate(1100,1600) scale(0.226757)">
<path d="M440,380 Q560,350 650,420 Q740,500 840,430" stroke-width="16.76" />
<path d="M1245,1390 Q1330,1280 1250,1190 Q1170,1110 1225,1025" stroke-width="16.76" />
</g>
<g transform="translate(1760,1340) scale(0.226757)">
<path d="M730,320 Q720,440 640,435 Q540,400 480,440 Q450,480 440,530" stroke-width="16.76" />
<path d="M725,1370 Q770,1290 690,1270 Q600,1260 605,1170" stroke-width="16.76" />
</g>
<g transform="translate(260,1280) scale(0.500000)">
<path d="M890,655 L890,700 Q880,740 830,770 Q795,790 788,835" stroke-width="7.60" />
<path d="M120,583 L122,500 Q130,420 205,412" stroke-width="7.60" />
<path d="M178,665 Q270,720 330,715 Q370,705 388,672" stroke-width="7.60" />
<path d="M975,1240 Q900,1150 915,1100 L935,1050" stroke-width="7.60" />
<path d="M1110,1305 Q1260,1270 1265,1200 L1262,1150" stroke-width="7.60" />
</g>
<text x="1754.7" y="249.0" font-size="59.5" textLength="78.1" lengthAdjust="spacingAndGlyphs">100</text>
<text x="465.2" y="682.0" font-size="59.5" textLength="34.6" lengthAdjust="spacingAndGlyphs">Y</text>
<text x="350.9" y="908.3" font-size="59.5" textLength="37.6" lengthAdjust="spacingAndGlyphs">M</text>
<text x="554.9" y="980.0" font-size="59.5" textLength="33.6" lengthAdjust="spacingAndGlyphs">X</text>
<text x="281.5" y="1075.0" font-size="59.5" textLength="32.0" lengthAdjust="spacingAndGlyphs">Z</text>
<text x="180.9" y="1058.3" font-size="59.5" textLength="50.9" lengthAdjust="spacingAndGlyphs">50</text>
<text x="129.7" y="1155.3" font-size="59.5" textLength="51.1" lengthAdjust="spacingAndGlyphs">59</text>
<text x="486.5" y="1093.5" font-size="59.5" textLength="52.0" lengthAdjust="spacingAndGlyphs">53</text>
<text x="746.0" y="1083.6" font-size="59.5" textLength="52.3" lengthAdjust="spacingAndGlyphs">52</text>
<text x="807.2" y="1178.8" font-size="59.5" textLength="47.6" lengthAdjust="spacingAndGlyphs">51</text>
<text x="1139.2" y="1074.2" font-size="59.5" textLength="52.9" lengthAdjust="spacingAndGlyphs">20</text>
<text x="489.2" y="1315.0" font-size="59.5" textLength="52.6" lengthAdjust="spacingAndGlyphs">54</text>
<text x="620.5" y="1356.0" font-size="59.5" textLength="52.3" lengthAdjust="spacingAndGlyphs">57</text>
<text x="131.2" y="1459.0" font-size="59.5" textLength="52.2" lengthAdjust="spacingAndGlyphs">58</text>
<text x="227.4" y="1487.9" font-size="59.5" textLength="52.2" lengthAdjust="spacingAndGlyphs">56</text>
<text x="290.7" y="1625.0" font-size="59.5" textLength="51.1" lengthAdjust="spacingAndGlyphs">60</text>
<text x="675.7" y="1597.5" font-size="59.5" textLength="51.1" lengthAdjust="spacingAndGlyphs">10</text>
<text x="748.0" y="1952.0" font-size="59.5" textLength="53.3" lengthAdjust="spacingAndGlyphs">60</text>
<text x="1476.5" y="1124.6" font-size="59.5" textLength="52.3" lengthAdjust="spacingAndGlyphs">52</text>
<text x="1232.7" y="1240.3" font-size="59.5" textLength="47.9" lengthAdjust="spacingAndGlyphs">51</text>
<text x="1545.7" y="1346.8" font-size="59.5" textLength="51.1" lengthAdjust="spacingAndGlyphs">53</text>
<text x="1541.2" y="1473.8" font-size="59.5" textLength="52.3" lengthAdjust="spacingAndGlyphs">54</text>
<text x="1354.2" y="1592.3" font-size="59.5" textLength="52.1" lengthAdjust="spacingAndGlyphs">56</text>
<text x="1139.0" y="1704.0" font-size="59.5" textLength="53.5" lengthAdjust="spacingAndGlyphs">64</text>
<text x="1714.0" y="1722.4" font-size="59.5" textLength="51.2" lengthAdjust="spacingAndGlyphs">59</text>
<text x="1897.7" y="1696.0" font-size="59.5" textLength="52.3" lengthAdjust="spacingAndGlyphs">62</text>
<text x="1356.7" y="1962.5" font-size="59.5" textLength="52.4" lengthAdjust="spacingAndGlyphs">62</text>
<text x="1562.1" y="1939.0" font-size="59.5" textLength="52.3" lengthAdjust="spacingAndGlyphs">58</text>
<text x="1748.7" y="1927.0" font-size="59.5" textLength="52.5" lengthAdjust="spacingAndGlyphs">50</text>
<text x="1902.2" y="1403.5" font-size="59.5" textLength="53.5" lengthAdjust="spacingAndGlyphs">64</text>
<text x="2030.2" y="1408.0" font-size="59.5" textLength="50.2" lengthAdjust="spacingAndGlyphs">d1</text>
<text x="507.5" y="2155.6" font-size="59.5" textLength="29.4" lengthAdjust="spacingAndGlyphs">P</text>

</svg>
</body></html>
